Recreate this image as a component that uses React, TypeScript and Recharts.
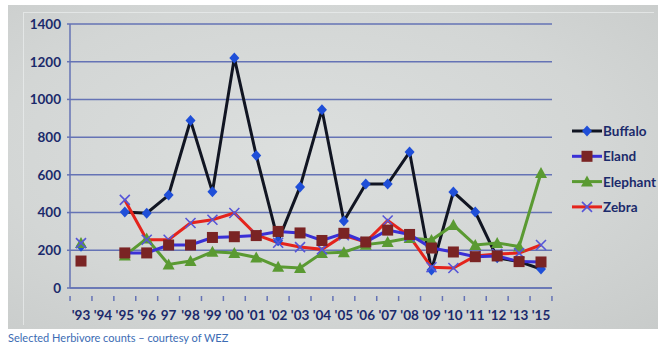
import React from "react";
import { LineChart, Line, XAxis, YAxis, CartesianGrid } from "recharts";

const years = ["'93", "'94", "'95", "'96", "97", "'98", "'99", "'00", "'01", "'02", "'03", "'04", "'05", "'06", "'07", "'08", "'09", "'10", "'11", "'12", "'13", "'15"];
const buffalo = [222, null, 403, 397, 493, 888, 510, 1220, 703, 250, 536, 945, 355, 551, 551, 721, 95, 509, 403, 160, 140, 101];
const eland = [143, null, 186, 186, 228, 228, 268, 272, 278, 300, 292, 252, 290, 244, 307, 284, 212, 191, 166, 170, 140, 138];
const elephant = [238, null, 172, 262, 125, 143, 192, 185, 162, 113, 106, 185, 190, 230, 244, 265, 254, 334, 228, 239, 220, 610];
const zebra = [238, null, 467, 256, 256, 345, 362, 398, 282, 240, 217, 205, 280, 244, 358, 274, 110, 106, 170, 180, 185, 228];
const yTicks = [0, 200, 400, 600, 800, 1000, 1200, 1400];
const caption = "Selected Herbivore counts \u2013 courtesy of WEZ";

const data = years.map((y, i) => ({
  year: y,
  Buffalo: buffalo[i],
  Eland: eland[i],
  Elephant: elephant[i],
  Zebra: zebra[i],
}));

const AXIS = "#6573b5";
const LABEL = "#1b2a6b";
const FONT = "Lato, 'Open Sans', sans-serif";

const Diamond = ({ cx, cy }: any) =>
  cx == null || cy == null ? null : (
    <path d={`M${cx},${cy - 5.5} L${cx + 5},${cy} L${cx},${cy + 5.5} L${cx - 5},${cy} Z`} fill="#1f4fd8" />
  );
const Square = ({ cx, cy }: any) =>
  cx == null || cy == null ? null : (
    <rect x={cx - 5.5} y={cy - 5.5} width={11} height={11} fill="#7a2424" />
  );
const Triangle = ({ cx, cy }: any) =>
  cx == null || cy == null ? null : (
    <path d={`M${cx},${cy - 6} L${cx + 6},${cy + 5} L${cx - 6},${cy + 5} Z`} fill="#5a9a32" />
  );
const Cross = ({ cx, cy }: any) =>
  cx == null || cy == null ? null : (
    <path d={`M${cx - 5},${cy - 5} L${cx + 5},${cy + 5} M${cx + 5},${cy - 5} L${cx - 5},${cy + 5}`} stroke="#5656d8" strokeWidth={1.6} />
  );

const series = [
  { name: "Buffalo", line: "#111522", Marker: Diamond },
  { name: "Eland", line: "#3a30d6", Marker: Square },
  { name: "Elephant", line: "#5a9a32", Marker: Triangle },
  { name: "Zebra", line: "#e4241c", Marker: Cross },
];
const drawOrder = ["Buffalo", "Elephant", "Zebra", "Eland"];

const HALF = 10.95;
const XTick = (props: any) => {
  const { x, y, payload, index } = props;
  const last = index === years.length - 1;
  return (
    <g>
      <line x1={x - HALF} y1={y - 0} x2={x - HALF} y2={y + 5} stroke={AXIS} strokeWidth={1.5} />
      {last && <line x1={x + HALF} y1={y} x2={x + HALF} y2={y + 5} stroke={AXIS} strokeWidth={1.5} />}
      <text x={x} y={y + 24} textAnchor="middle" fill={LABEL} fontFamily={FONT} fontWeight={700} fontSize={13.5}>
        {payload.value}
      </text>
    </g>
  );
};

export default function App() {
  return (
    <div style={{ position: "absolute", left: 0, top: 0, width: 667, height: 351, background: "#fff", overflow: "hidden" }}>
      <div
        style={{
          position: "absolute",
          left: 8,
          top: 5,
          width: 650,
          height: 324,
          background: "radial-gradient(ellipse at 45% 45%, #dcdfde 0%, #d3d6d5 60%, #c8cbca 100%)",
        }}
      >
        <div style={{ position: "absolute", left: 15, top: 7, width: 630, height: 312, borderLeft: "1px solid rgba(235,238,238,0.7)", borderTop: "1px solid rgba(235,238,238,0.7)" }} />
        <LineChart width={650} height={324} data={data} margin={{ top: 19, right: 106, left: 0, bottom: 0 }}>
          <CartesianGrid vertical={false} stroke={AXIS} strokeWidth={1.5} />
          <XAxis
            dataKey="year"
            padding={{ left: 11, right: 11 }}
            axisLine={{ stroke: AXIS, strokeWidth: 1.5 }}
            tickLine={false}
            tick={<XTick />}
            interval={0}
            height={41}
          />
          <YAxis
            domain={[0, 1400]}
            ticks={yTicks}
            width={62}
            axisLine={{ stroke: AXIS, strokeWidth: 1.5 }}
            tickLine={{ stroke: AXIS, strokeWidth: 1.5 }}
            tickSize={3}
            tickMargin={6}
            tick={{ fill: LABEL, fontFamily: FONT, fontWeight: 700, fontSize: 13.5 }}
          />
          {drawOrder.map((n) => {
            const s = series.find((q) => q.name === n)!;
            const M = s.Marker;
            return (
              <Line
                key={n}
                type="linear"
                dataKey={n}
                stroke={s.line}
                strokeWidth={3}
                dot={<M />}
                activeDot={false}
                isAnimationActive={false}
              />
            );
          })}
        </LineChart>
        <svg style={{ position: "absolute", left: 560, top: 112 }} width={90} height={104}>
          {series.map((s, i) => {
            const cy = 14 + i * 25.3;
            const M = s.Marker;
            return (
              <g key={s.name}>
                <line x1={4} y1={cy} x2={34} y2={cy} stroke={s.line} strokeWidth={3} />
                <M cx={19} cy={cy} />
                <text x={35} y={cy + 5} fill={LABEL} fontFamily={FONT} fontWeight={700} fontSize={13.5}>
                  {s.name}
                </text>
              </g>
            );
          })}
        </svg>
      </div>
      <div
        style={{
          position: "absolute",
          left: 8,
          top: 331,
          fontFamily: FONT,
          fontSize: 11,
          color: "#3c6cb4",
          whiteSpace: "nowrap",
        }}
      >
        {caption}
      </div>
    </div>
  );
}
